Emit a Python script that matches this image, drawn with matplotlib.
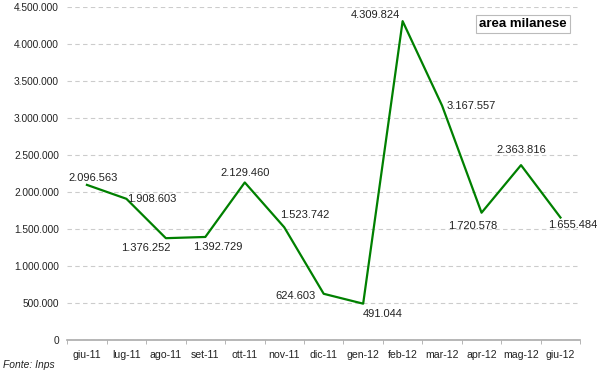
import numpy as np
import matplotlib.pyplot as plt
from matplotlib.ticker import FuncFormatter

plt.rcParams['font.family'] = ['Liberation Sans', 'DejaVu Sans']

months = ['giu-11', 'lug-11', 'ago-11', 'set-11', 'ott-11', 'nov-11', 'dic-11',
          'gen-12', 'feb-12', 'mar-12', 'apr-12', 'mag-12', 'giu-12']
values = [2096563, 1908603, 1376252, 1392729, 2129460, 1523742, 624603,
          491044, 4309824, 3167557, 1720578, 2363816, 1655484]

# label offsets in pixels (dx, dy) and alignment for each point
offsets = [(6, 7, 'center'), (1, 0, 'left'), (-20, -10, 'center'), (12, -10, 'center'),
           (0, 9, 'center'), (21, 12, 'center'), (-28, -2, 'center'), (0, -10, 'left'),
           (-3, 6, 'right'), (4, 0, 'left'), (-9, -13, 'center'), (0, 15, 'center'),
           (12, -7, 'center')]


def it_fmt(v):
    return f"{int(round(v)):,}".replace(",", ".")


fig = plt.figure(figsize=(6, 3.72), dpi=100)
ax = fig.add_axes([0.112, 0.086, 0.855, 0.895])

x = np.arange(len(months))
ax.plot(x, values, color='#008000', lw=1.6)

for xi, v, (dx, dy, ha) in zip(x, values, offsets):
    ax.annotate(it_fmt(v), (xi, v), xytext=(dx, dy), textcoords='offset pixels',
                ha=ha, va='center', fontsize=8, color='#222222')

ax.set_xlim(-0.5, len(months) - 0.5)
ax.set_ylim(0, 4500000)
ax.set_yticks(np.arange(0, 4500001, 500000))
ax.yaxis.set_major_formatter(FuncFormatter(lambda v, p: it_fmt(v)))
ax.set_xticks(x)
ax.set_xticklabels(months)
ax.set_xticks(np.arange(-0.5, len(months), 1), minor=True)

ax.tick_params(axis='y', length=0, pad=6, labelsize=7.3, labelcolor='#222222')
ax.tick_params(axis='x', which='major', length=0, pad=7, labelsize=7.6, labelcolor='#222222')
ax.tick_params(axis='x', which='minor', length=3, color='#aaaaaa')

ax.grid(axis='y', linestyle=(0, (4, 3)), color='#cccccc', lw=0.8)
for s in ['top', 'right', 'left']:
    ax.spines[s].set_visible(False)
ax.spines['bottom'].set_color('#aaaaaa')
ax.spines['bottom'].set_linewidth(1.2)
ax.set_axisbelow(True)

ax.text(0.889, 0.949, 'area milanese', transform=ax.transAxes, ha='center', va='center',
        fontsize=9.5, fontweight='bold',
        bbox=dict(boxstyle='square,pad=0.25', fc='white', ec='#bbbbbb', lw=0.8))

fig.text(0.005, 0.012, 'Fonte: Inps', fontsize=7.4, style='italic', color='#222222')

fig.savefig('out.png', dpi=100)
